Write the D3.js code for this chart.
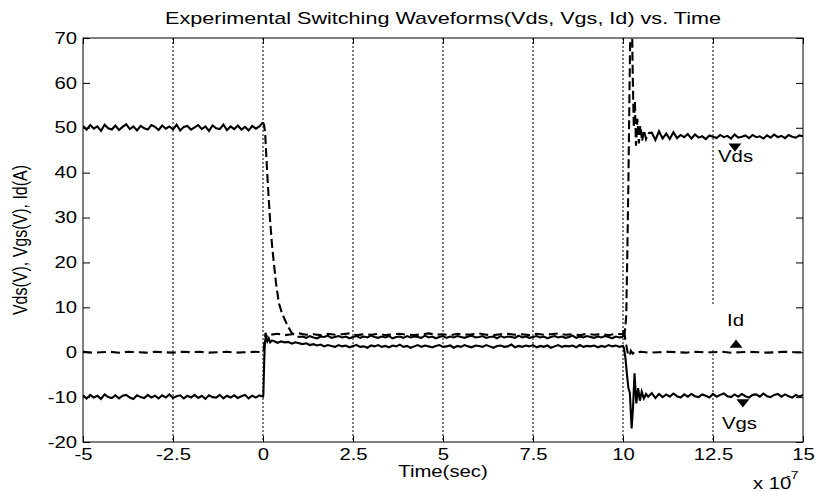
<!DOCTYPE html>
<html>
<head>
<meta charset="utf-8">
<script src="https://cdn.jsdelivr.net/npm/d3@7"></script>
<style>
  body { margin: 0; background: #fff; }
  text { font-family: "Liberation Sans", Arial, sans-serif; fill: #000; }
</style>
</head>
<body>
<div id="chart"></div>
<script>
// time is in units of 1e-7 sec
var xTicks = [-5, -2.5, 0, 2.5, 5, 7.5, 10, 12.5, 15];
var yTicks = [-20, -10, 0, 10, 20, 30, 40, 50, 60, 70];

// ---- Vds ----
// off state, t = -5 .. 0 every 0.1
var vdsOff = [50.4, 49.6, 50.6, 49.8, 50.3, 49.3, 50.7, 49.9, 49.6, 50.5,
    49.5, 50.2, 50.8, 49.7, 50.3, 49.4, 50.4, 49.9, 49.6, 50.6,
    50.2, 49.5, 50.5, 49.8, 50.3, 49.6, 50.7, 49.4, 50.2, 50.4,
    49.6, 50.1, 50.6, 49.7, 50.3, 49.3, 50.5, 49.9, 49.7, 50.7,
    49.5, 50.3, 49.7, 50.5, 49.6, 50.2, 49.4, 50.4, 49.8, 50.3, 51.2];
// turn-on fall
var vdsFallT = [0.03, 0.06, 0.09, 0.12, 0.16, 0.2, 0.25, 0.3, 0.36, 0.44, 0.53, 0.62, 0.71, 0.8, 0.9, 1.0];
var vdsFallV = [50.6, 48.8, 44, 39.5, 34, 29, 24, 20, 15.5, 11, 8.6, 7, 5.5, 4.3, 3.7, 3.4];
// on state, t = 1.1 .. 10 every 0.1
var vdsOn = [3.5, 3.2, 3.6, 3.3, 3.1, 3.5, 3.4, 3.7, 3.2, 3.4,
    3.6, 3.3, 3.5, 3.1, 3.4, 3.6, 3.2, 3.5, 3.3, 3.7,
    3.4, 3.2, 3.5, 3.3, 3.6, 3.1, 3.4, 3.5, 3.2, 3.6,
    3.3, 3.5, 3.4, 3.2, 3.7, 3.3, 3.5, 3.1, 3.4, 3.6,
    3.2, 3.5, 3.3, 3.6, 3.4, 3.2, 3.5, 3.7, 3.3, 3.4,
    3.6, 3.2, 3.4, 3.5, 3.1, 3.6, 3.3, 3.5, 3.4, 3.2,
    3.7, 3.3, 3.5, 3.2, 3.4, 3.6, 3.3, 3.5, 3.1, 3.4,
    3.6, 3.3, 3.5, 3.2, 3.4, 3.7, 3.2, 3.5, 3.3, 3.6,
    3.4, 3.2, 3.5, 3.3, 3.6, 3.4, 3.1, 3.5, 3.3, 3.4];
// turn-off overshoot
var vdsRiseT = [10.05, 10.09, 10.12, 10.15, 10.18, 10.21, 10.24, 10.27, 10.3, 10.33, 10.36, 10.4, 10.44, 10.48, 10.53, 10.58, 10.64, 10.7];
var vdsRiseV = [4.6, 8, 22, 38, 58, 76, 80, 62, 50, 56, 46, 52, 46.5, 50.5, 47, 49.5, 47.5, 48.8];
// t = 10.8 .. 15 every 0.1
var vdsEnd = [48.9, 47.3, 49.2, 47.6, 48.7, 47.5, 49.0, 47.7, 48.4, 47.9,
    48.6, 47.6, 48.5, 47.8, 48.1, 47.5, 48.3, 48.0, 47.7, 48.4,
    47.9, 48.2, 47.6, 48.5, 47.8, 48.0, 48.3, 47.7, 48.4, 47.9,
    48.1, 47.6, 48.3, 47.8, 48.5, 47.9, 48.2, 47.7, 48.4, 48.0,
    47.8, 48.3, 48.1];

// ---- Vgs ----
var vgsOff = [-9.6, -10.3, -9.5, -10.1, -9.7, -10.4, -9.4, -10.0, -10.2, -9.6,
    -10.3, -9.7, -9.5, -10.1, -10.4, -9.6, -10.0, -10.2, -9.5, -10.1,
    -9.7, -10.3, -9.6, -10.1, -9.4, -10.2, -9.8, -9.6, -10.3, -9.7,
    -10.1, -9.5, -10.2, -9.7, -10.4, -9.6, -10.0, -10.1, -9.5, -10.3,
    -9.7, -10.1, -9.6, -10.2, -9.8, -9.5, -10.3, -9.7, -10.1, -9.6, -9.9];
var vgsRiseT = [0.01, 0.03, 0.05, 0.08, 0.12, 0.16, 0.2, 0.25];
var vgsRiseV = [-9.5, -3, 2.0, 3.6, 2.4, 3.1, 2.2, 2.6];
// t = 0.3 .. 10 every 0.1
var vgsOn = [2.5, 2.1, 2.4, 2.2, 2.3, 1.9, 2.2, 2.0, 1.8, 2.0,
    1.6, 1.8, 1.5, 1.7, 1.3, 1.6, 1.4, 1.2, 1.6, 1.3,
    1.5, 1.1, 1.4, 1.6, 1.2, 1.3, 1.0, 1.5, 1.3, 1.6,
    1.2, 1.4, 1.1, 1.5, 1.3, 1.7, 1.2, 1.4, 1.0, 1.3,
    1.6, 1.2, 1.5, 1.3, 1.1, 1.4, 1.6, 1.2, 1.3, 1.5,
    1.0, 1.4, 1.2, 1.6, 1.3, 1.1, 1.5, 1.4, 1.2, 1.6,
    1.3, 1.0, 1.4, 1.5, 1.2, 1.3, 1.7, 1.1, 1.4, 1.2,
    1.5, 1.3, 1.6, 1.1, 1.4, 1.2, 1.5, 1.0, 1.3, 1.6,
    1.2, 1.4, 1.3, 1.5, 1.1, 1.6, 1.2, 1.4, 1.3, 1.5,
    1.1, 1.4, 1.2, 1.6, 1.3, 1.5, 1.2, 1.4];
var vgsFallT = [10.03, 10.07, 10.11, 10.15, 10.19, 10.24, 10.28, 10.32, 10.37, 10.42, 10.47, 10.52, 10.58, 10.64, 10.7];
var vgsFallV = [0.8, -1.5, -5, -8, -9, -17, -12, -4.7, -11.4, -8, -10.8, -8.8, -10.3, -9.3, -9.9];
// t = 10.8 .. 15 every 0.1
var vgsEnd = [-9.1, -10.2, -9.3, -10.0, -9.4, -9.9, -9.2, -9.8, -10.1, -9.4,
    -9.9, -9.3, -9.8, -10.0, -9.4, -9.7, -10.1, -9.3, -9.9, -9.5,
    -9.2, -9.8, -10.0, -9.4, -9.9, -9.3, -9.8, -10.1, -9.5, -9.4,
    -9.9, -9.2, -9.8, -10.0, -9.5, -9.3, -9.9, -9.4, -9.8, -10.1,
    -9.5, -9.9, -9.5];

// ---- Id ----
// t = -5 .. 0 every 0.25
var idOff = [0.1, -0.1, 0.0, 0.1, -0.1, 0.1, 0.0, -0.1, 0.1, 0.0, -0.1,
    0.1, 0.0, 0.1, -0.1, 0.0, 0.1, -0.1, 0.0, 0.1, 0.0];
var idRiseT = [0.02, 0.04, 0.07, 0.1, 0.15];
var idRiseV = [0.5, 2.2, 4.3, 3.5, 4.1];
// t = 0.2 .. 10 every 0.2
var idOn = [3.9, 4.1, 3.8, 4.0, 4.2, 3.9, 4.0, 3.8, 4.1, 3.9,
    4.0, 4.2, 3.8, 4.0, 3.9, 4.1, 3.8, 4.0, 4.1, 3.9,
    3.8, 4.0, 4.2, 3.9, 4.0, 3.8, 4.1, 3.9, 4.0, 4.2,
    3.9, 3.8, 4.0, 4.1, 3.9, 4.0, 3.8, 4.1, 3.9, 4.0,
    4.2, 3.9, 4.0, 3.8, 4.1, 3.9, 4.0, 3.8, 4.1, 4.0];
var idFallT = [10.03, 10.06, 10.1, 10.14, 10.18, 10.22, 10.27, 10.33, 10.4];
var idFallV = [5.4, 3.0, 1.2, -0.4, -0.9, 0.3, -0.3, 0.2, 0.0];
// t = 10.5 .. 15 every 0.25
var idEnd = [0.1, -0.1, 0.0, 0.1, 0.0, -0.1, 0.1, 0.0, 0.0, 0.1,
    -0.1, 0.0, 0.1, 0.0, -0.1, 0.0, 0.1, 0.0, 0.0];

// trace labels and their markers (time, value)
var labelNames = ["Vds", "Id", "Vgs"];
var labelT = [12.64, 12.89, 12.75];
var labelV = [42.4, 5.8, -17.2];
var markerT = [13.11, 13.14, 13.33];
var markerV = [45.9, 1.6, -11.1];

function uniform(t0, dt, vals) {
    return vals.map((v, i) => ({t: t0 + i * dt, v: v}));
}
function explicit(ts, vs) {
    return ts.map((t, i) => ({t: t, v: vs[i]}));
}
// joins pieces so that each piece starts where the last one ended
function chain(pieces) {
    var out = [];
    pieces.forEach(function(p, i) {
        var pts = p.pts.slice();
        if (i > 0) pts.unshift(out[i - 1].pts[out[i - 1].pts.length - 1]);
        out.push({pts: pts, dashed: p.dashed});
    });
    return out;
}

// Vds is drawn dashed, but the dense noise fills the gaps on the flat parts
var vdsPieces = chain([
    {pts: uniform(-5, 0.1, vdsOff), dashed: false},
    {pts: explicit(vdsFallT, vdsFallV), dashed: true},
    {pts: uniform(1.1, 0.1, vdsOn), dashed: false},
    {pts: explicit(vdsRiseT, vdsRiseV), dashed: true},
    {pts: uniform(10.8, 0.1, vdsEnd), dashed: false}
]);
var vgs = [].concat(uniform(-5, 0.1, vgsOff), explicit(vgsRiseT, vgsRiseV),
    uniform(0.3, 0.1, vgsOn), explicit(vgsFallT, vgsFallV), uniform(10.8, 0.1, vgsEnd));
var id = [].concat(uniform(-5, 0.25, idOff), explicit(idRiseT, idRiseV),
    uniform(0.2, 0.2, idOn), explicit(idFallT, idFallV), uniform(10.5, 0.25, idEnd));

// ---- chart ----
var svgWidth = 815, svgHeight = 491;
var margin = {top: 38, right: 12, bottom: 49, left: 83};
var stretchX = 1.27;   // the picture is stretched sideways

var svg = d3.select("#chart").append("svg")
    .attr("width", svgWidth)
    .attr("height", svgHeight)
    .style("background", "#fff");

var x = d3.scaleLinear().domain([-5, 15]).range([margin.left, svgWidth - margin.right]);
var y = d3.scaleLinear().domain([-20, 70]).range([svgHeight - margin.bottom, margin.top]);

function stretch(sel) {
    sel.each(function() {
        var w = this.getComputedTextLength();
        d3.select(this).attr("textLength", w * stretchX).attr("lengthAdjust", "spacingAndGlyphs");
    });
}

svg.append("clipPath").attr("id", "plotClip")
    .append("rect")
    .attr("x", x(-5)).attr("y", y(70))
    .attr("width", x(15) - x(-5)).attr("height", y(-20) - y(70));

// dotted vertical grid
svg.append("g").selectAll("line")
    .data(xTicks.filter(d => d > -5 && d < 15))
    .enter().append("line")
    .attr("x1", d => x(d)).attr("x2", d => x(d))
    .attr("y1", y(70)).attr("y2", y(-20))
    .attr("stroke", "#000")
    .attr("stroke-width", 1)
    .attr("stroke-dasharray", "2,2");

// the Id label box hides the grid behind it
svg.append("rect")
    .attr("x", x(labelT[1]) - 16).attr("y", y(labelV[1]) - 21)
    .attr("width", 48).attr("height", 43)
    .attr("fill", "#fff");

// axes, ticks inside
var fmt = d => String(d);
var xAxis = svg.append("g")
    .attr("transform", `translate(0,${y(-20)})`)
    .call(d3.axisBottom(x).tickValues(xTicks).tickSize(-6).tickPadding(7).tickFormat(fmt));
var yAxis = svg.append("g")
    .attr("transform", `translate(${x(-5)},0)`)
    .call(d3.axisLeft(y).tickValues(yTicks).tickSize(-7).tickPadding(6).tickFormat(fmt));
svg.append("g")
    .attr("transform", `translate(0,${y(70)})`)
    .call(d3.axisTop(x).tickValues(xTicks).tickSize(-6).tickFormat(""));
svg.append("g")
    .attr("transform", `translate(${x(15)},0)`)
    .call(d3.axisRight(y).tickValues(yTicks).tickSize(-7).tickFormat(""));
svg.selectAll(".domain").remove();
svg.selectAll(".tick line").attr("stroke", "#000");
svg.selectAll(".tick text").attr("font-size", 16).attr("fill", "#000")
    .attr("font-family", "Liberation Sans, Arial, sans-serif");
stretch(xAxis.selectAll("text"));
stretch(yAxis.selectAll("text"));

// frame
svg.append("rect")
    .attr("x", x(-5)).attr("y", y(70))
    .attr("width", x(15) - x(-5)).attr("height", y(-20) - y(70))
    .attr("fill", "none").attr("stroke", "#000").attr("stroke-width", 1);

// traces
var line = d3.line().x(d => x(d.t)).y(d => y(d.v));
var traces = svg.append("g").attr("clip-path", "url(#plotClip)")
    .attr("fill", "none").attr("stroke", "#000").attr("stroke-width", 2.1)
    .attr("stroke-linejoin", "miter");

traces.append("path").datum(vgs).attr("d", line);
traces.selectAll(".vds")
    .data(vdsPieces)
    .enter().append("path")
    .attr("class", "vds")
    .attr("d", d => line(d.pts))
    .attr("stroke-dasharray", d => d.dashed ? "9,4" : null);
traces.append("path").datum(id)
    .attr("d", line)
    .attr("stroke-dasharray", "9,5");

// markers: Vds and Vgs point down, Id points up
var markerDir = [180, 0, 180];
svg.append("g").selectAll("path")
    .data(markerT)
    .enter().append("path")
    .attr("d", d3.symbol(d3.symbolTriangle, 55))
    .attr("transform", (d, i) => `translate(${x(d)},${y(markerV[i])}) rotate(${markerDir[i]}) scale(1.15,0.85)`)
    .attr("fill", "#000");

svg.append("g").selectAll("text")
    .data(labelNames)
    .enter().append("text")
    .attr("x", (d, i) => x(labelT[i]))
    .attr("y", (d, i) => y(labelV[i]))
    .attr("font-size", 16)
    .text(d => d)
    .call(stretch);

// titles
svg.append("text")
    .attr("x", (x(-5) + x(15)) / 2)
    .attr("y", 24)
    .attr("text-anchor", "middle")
    .attr("font-size", 17)
    .text("Experimental Switching Waveforms(Vds, Vgs, Id) vs. Time")
    .call(stretch);

svg.append("text")
    .attr("x", (x(-5) + x(15)) / 2)
    .attr("y", 477)
    .attr("text-anchor", "middle")
    .attr("font-size", 16)
    .text("Time(sec)")
    .call(stretch);

svg.append("text")
    .attr("transform", `translate(27,${(y(70) + y(-20)) / 2}) rotate(-90) scale(1,${stretchX})`)
    .attr("text-anchor", "middle")
    .attr("font-size", 16)
    .text("Vds(V), Vgs(V), Id(A)");

svg.append("text")
    .attr("x", 753).attr("y", 489)
    .attr("font-size", 16)
    .text("x 10")
    .call(stretch);
svg.append("text")
    .attr("x", 786).attr("y", 479)
    .attr("font-size", 11)
    .text("-7")
    .call(stretch);
</script>
</body>
</html>
